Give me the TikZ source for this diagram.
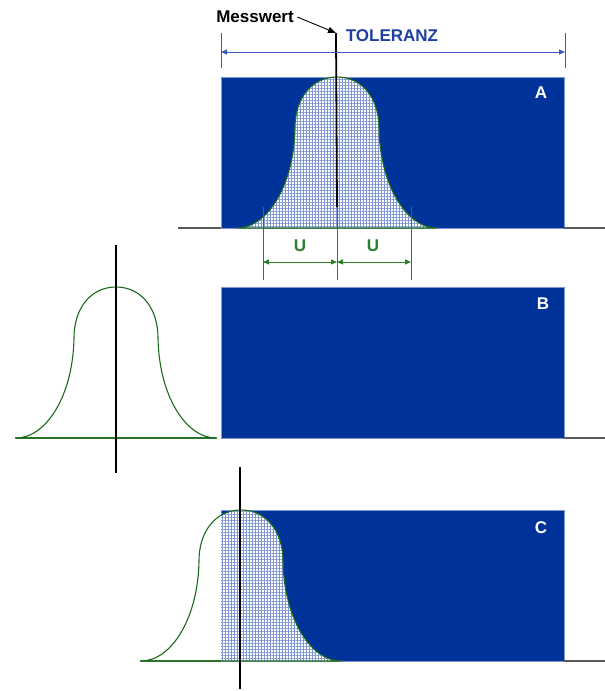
\documentclass[tikz,border=0pt]{standalone}
\usepackage{fontspec}
\setmainfont{Liberation Sans}
\usetikzlibrary{arrows.meta,patterns.meta}
\definecolor{panelblue}{HTML}{003399}
\definecolor{paneledge}{HTML}{7A96D8}
\definecolor{tolblue}{HTML}{1E3FA3}
\definecolor{tolline}{HTML}{3A5BB8}
\definecolor{curvegreen}{HTML}{1B6B1B}
\definecolor{dimgreen}{HTML}{2A7F2A}
\definecolor{basegray}{HTML}{5A5A5A}
\definecolor{hatchblue}{HTML}{7F96D4}
\newcommand\bellshape[1]{\path[#1] (-100,0) .. controls (-70,0) and (-43,-42) .. (-42,-100) .. controls (-42,-130) and (-25,-151) .. (0,-151) .. controls (25,-151) and (42,-130) .. (42,-100) .. controls (43,-42) and (70,0) .. (100,0) -- cycle;}
\tikzset{
  panel/.style={fill=panelblue, draw=paneledge, line width=0.8pt, minimum width=343pt, minimum height=151pt, anchor=north west, inner sep=0pt, outer sep=0pt},
  lbl/.style={font=\fontsize{17}{19}\selectfont\bfseries},
  panellabel/.style={lbl, text=white},
  bellfill/.style={fill=white, postaction={pattern={Hatch[angle=0,distance=3pt,line width=0.9pt]}, pattern color=hatchblue}},
  bellline/.style={draw=curvegreen, line width=1.1pt},
  baseline/.style={draw=basegray, line width=1.2pt},
  greenbase/.style={draw=curvegreen!80!white, line width=1.2pt},
  measline/.style={draw=black, line width=1.8pt},
  dimline/.style={draw=dimgreen, line width=1pt},
  tolext/.style={draw=tolline, line width=0.9pt},
  dimarrow/.style={{Triangle[length=6pt,width=5pt]}-{Triangle[length=6pt,width=5pt]}},
}
\begin{document}
\begin{tikzpicture}[x=1pt,y=-1pt]
\useasboundingbox (0,0) rectangle (605,691);
% ---------- Panel A ----------
\node[panel] (pA) at (221,77) {};
\node[panellabel] (lA) at (541,93) {A};
\draw[baseline] (178,228) -- (pA.south west);
\draw[baseline] (pA.south east) -- (605,228);
\begin{scope}[shift={(337,228)}]
  \bellshape{bellfill}
  \bellshape{bellline}
\end{scope}
% measured value
\node[lbl] (mw) at (255,17) {Messwert};
\coordinate (tip) at (336,33);
\coordinate (mA) at (337,207);
\draw[line width=0.9pt, -{Triangle[length=8pt,width=6pt]}] (mw.east) -- (tip);
\draw[measline] (tip) -- (mA);
% tolerance
\node[lbl, text=tolblue] (tol) at (392,36) {TOLERANZ};
\coordinate (tl) at (221,52);
\coordinate (tr) at (565,52);
\draw[tolext] (221,33) -- (221,68);
\draw[tolext] (565,33) -- (565,68);
\draw[tolext, dimarrow] (tl) -- (tr);
% uncertainty U
\coordinate (u1) at (263,262);
\coordinate (u0) at (337,262);
\coordinate (u2) at (411,262);
\draw[dimline] (263,207) -- (263,280);
\draw[dimline] (337,207) -- (337,280);
\draw[dimline] (411,207) -- (411,280);
\draw[dimline, dimarrow] (u1) -- (u0);
\draw[dimline, dimarrow] (u0) -- (u2);
\node[lbl, text=dimgreen] (U1) at (300,246) {U};
\node[lbl, text=dimgreen] (U2) at (373,246) {U};
% ---------- Panel B ----------
\node[panel] (pB) at (221,287) {};
\node[panellabel] (lB) at (543,304) {B};
\draw[baseline] (pB.south east) -- (605,438);
\draw[greenbase] (15,438) -- (217,438);
\begin{scope}[shift={(116,438)}]
  \bellshape{bellline}
\end{scope}
\draw[measline] (116,245) -- (116,473);
% ---------- Panel C ----------
\node[panel] (pC) at (221,510) {};
\node[panellabel] (lC) at (541,528) {C};
\draw[baseline] (pC.south east) -- (605,661);
\draw[greenbase] (140,661) -- (221,661);
\begin{scope}
  \clip (221,400) rectangle (600,700);
  \begin{scope}[shift={(241,661)}]
    \bellshape{bellfill}
  \end{scope}
\end{scope}
\begin{scope}[shift={(241,661)}]
  \bellshape{bellline}
\end{scope}
\draw[measline] (240,467) -- (240,689);
\end{tikzpicture}
\end{document}
